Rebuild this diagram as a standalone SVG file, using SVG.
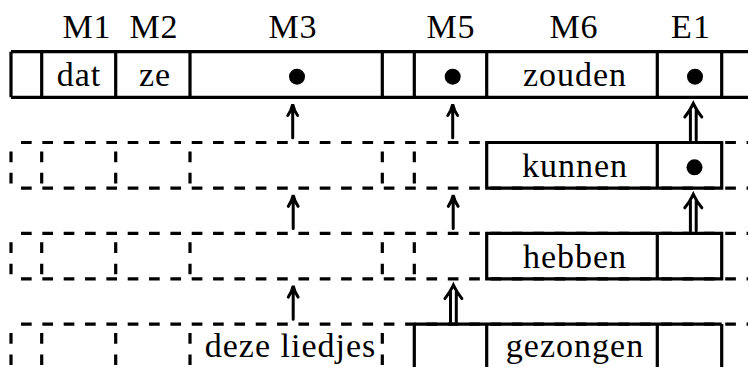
<svg xmlns="http://www.w3.org/2000/svg" width="748" height="367" viewBox="0 0 748 367">
<style>
text{font-size:34px;letter-spacing:1px;fill:#000;text-anchor:middle}
.s{fill:none;stroke:#000;stroke-width:3.2}
.d{fill:none;stroke:#000;stroke-width:3.2;stroke-dasharray:10.67 10.67}
.a{fill:none;stroke:#000;stroke-width:3;stroke-linecap:round}
.dot{fill:#000}
</style>
<rect width="748" height="367" fill="#fff"/>
<g font-family="Liberation Serif, DejaVu Serif, serif">
<g id="labels">
<text x="87" y="38">M1</text>
<text x="154" y="38">M2</text>
<text x="293" y="38">M3</text>
<text x="451" y="38">M5</text>
<text x="574" y="38">M6</text>
<text x="691" y="38">E1</text>
</g>
<g id="row1">
<path class="s" d="M11 51.7H748M11 97.3H748M11 51.7V97.3M41.7 51.7V97.3M115.7 51.7V97.3M190 51.7V97.3M382.3 51.7V97.3M414.3 51.7V97.3M486.7 51.7V97.3M657.3 51.7V97.3M721.7 51.7V97.3"/>
<text x="79" y="86">dat</text>
<text x="155" y="86">ze</text>
<circle class="dot" cx="297" cy="76.7" r="8"/>
<circle class="dot" cx="452.7" cy="76.7" r="8"/>
<text x="575" y="86">zouden</text>
<circle class="dot" cx="695" cy="76.7" r="8"/>
</g>
<g id="row2">
<path class="d" d="M21 142.5H748M21 188.1H748"/>
<path class="d" d="M11 151.5V186M41.7 151.5V186M115.7 151.5V186M190 151.5V186M382.3 151.5V186M414.3 151.5V186"/>
<path class="s" d="M486.7 142.5H721.7V188.1H486.7ZM657.3 142.5V188.1"/>
<text x="575" y="176.8">kunnen</text>
<circle class="dot" cx="694.5" cy="167.3" r="8"/>
</g>
<g id="row3">
<path class="d" d="M21 233.3H748M21 278.9H748"/>
<path class="d" d="M11 242.3V276.8M41.7 242.3V276.8M115.7 242.3V276.8M190 242.3V276.8M382.3 242.3V276.8M414.3 242.3V276.8"/>
<path class="s" d="M486.7 233.3H721.7V278.9H486.7ZM657.3 233.3V278.9"/>
<text x="575" y="267.6">hebben</text>
</g>
<g id="row4">
<path class="d" d="M21 324.1H748"/>
<path class="d" d="M11 333.1V370M41.7 333.1V370M115.7 333.1V370M190 333.1V370M382.3 333.1V370"/>
<path class="s" d="M414.3 324.1H721.7M414.3 324.1V370M486.7 324.1V370M657.3 324.1V370M721.7 324.1V370"/>
<text x="290.5" y="356.7">deze liedjes</text>
<text x="575" y="356.7">gezongen</text>
</g>
</g>
<g id="connectors">
<path class="a" d="M292.7 137.7V107M287.8 115.5Q291.3 110.5 292.7 104.3Q294.1 110.5 297.6 115.5"/>
<path class="a" d="M452.7 137.7V107M447.8 115.5Q451.3 110.5 452.7 104.3Q454.1 110.5 457.6 115.5"/>
<path class="a" d="M690.4 140V110M696.2 140V110M684.8 117Q689.8 111 693.3 103.5Q696.8 111 701.8 117"/>
<path class="a" d="M293.2 228.5V197.8M288.3 206.3Q291.8 201.3 293.2 195.1Q294.6 201.3 298.1 206.3"/>
<path class="a" d="M453.2 228.5V197.8M448.3 206.3Q451.8 201.3 453.2 195.1Q454.6 201.3 458.1 206.3"/>
<path class="a" d="M690.4 230.8V200.8M696.2 230.8V200.8M684.8 207.8Q689.8 201.8 693.3 194.3Q696.8 201.8 701.8 207.8"/>
<path class="a" d="M293.2 319.3V288.6M288.3 297.1Q291.8 292.1 293.2 285.9Q294.6 292.1 298.1 297.1"/>
<path class="a" d="M450.5 321.6V291.6M456.3 321.6V291.6M444.9 298.6Q449.9 292.6 453.4 285.1Q456.9 292.6 461.9 298.6"/>
</g>
</svg>
